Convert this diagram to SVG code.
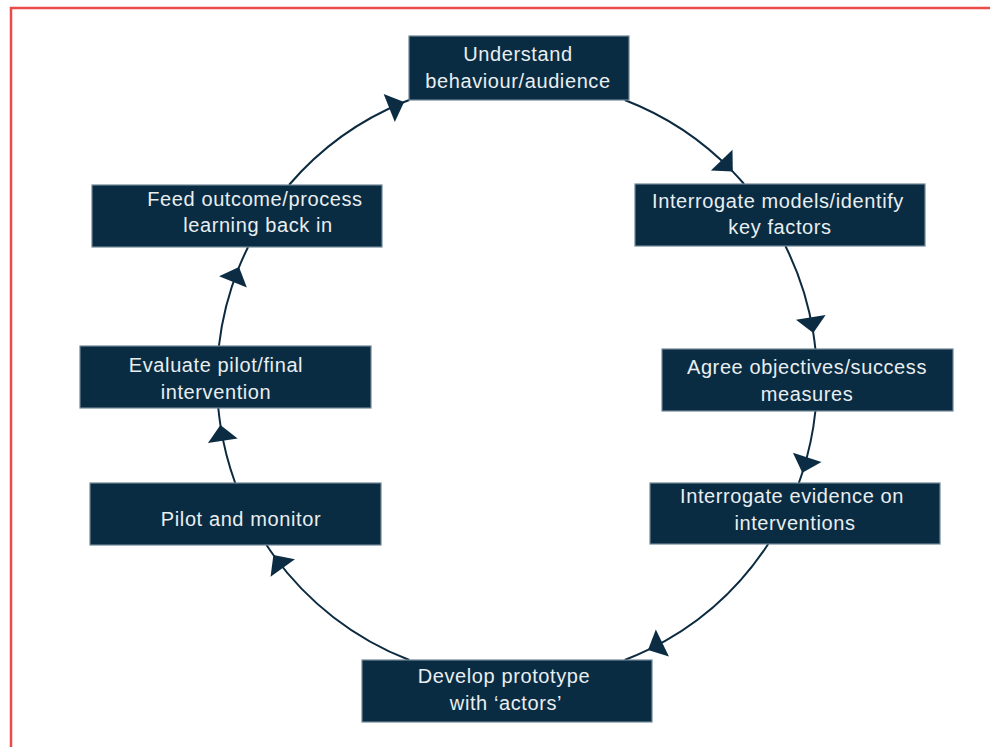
<svg xmlns="http://www.w3.org/2000/svg" width="990" height="747" viewBox="0 0 990 747">
  <style>
    .box { fill: #0a2c42; stroke: #6f8797; stroke-width: 1.2; }
    .lbl { fill: #e9eef1; font-family: "Liberation Sans", Arial, sans-serif; font-size: 20px; letter-spacing: 0.6px; text-anchor: middle; }
    .conn { fill: none; stroke: #0d2b40; stroke-width: 2; marker-mid: url(#ah); }
  </style>
  <defs>
    <marker id="ah" markerUnits="userSpaceOnUse" viewBox="-17 -16 18 32" markerWidth="18" markerHeight="32" refX="0" refY="0" orient="auto">
      <path d="M0,0 L-16,-15 L-16,15 Z" fill="#0b2c42"/>
    </marker>
  </defs>
  <rect width="990" height="747" fill="#ffffff"/>
  <path d="M11,747 V8 H990" fill="none" stroke="#ea4a48" stroke-width="2.5"/>

  <g id="connectors">
    <path class="conn" d="M289,185 A300,300 0 0 1 404.1,102 A300,300 0 0 1 409.3,100"/>
    <path class="conn" d="M624.7,100 A300,300 0 0 1 732.8,171.6 A300,300 0 0 1 744.1,184"/>
    <path class="conn" d="M785.4,246 A300,300 0 0 1 813.3,333.1 A300,300 0 0 1 815.4,349"/>
    <path class="conn" d="M815.4,411 A300,300 0 0 1 802.3,472.7 A300,300 0 0 1 798.8,483"/>
    <path class="conn" d="M768.2,544 A300,300 0 0 1 648,649.9 A300,300 0 0 1 624.7,660"/>
    <path class="conn" d="M409.3,660 A300,300 0 0 1 273.4,555 A300,300 0 0 1 266.5,545"/>
    <path class="conn" d="M235.2,483 A300,300 0 0 1 220.4,424.9 A300,300 0 0 1 218.3,408"/>
    <path class="conn" d="M218.9,346 A300,300 0 0 1 239,267.1 A300,300 0 0 1 248.1,247"/>
  </g>

  <g id="n1">
    <rect class="box" x="409" y="36" width="220" height="64"/>
    <text class="lbl" x="518" y="61">Understand</text>
    <text class="lbl" x="518" y="88">behaviour/audience</text>
  </g>
  <g id="n2">
    <rect class="box" x="635" y="184" width="290" height="62"/>
    <text class="lbl" x="778" y="208">Interrogate models/identify</text>
    <text class="lbl" x="780" y="234">key factors</text>
  </g>
  <g id="n3">
    <rect class="box" x="662" y="349" width="291" height="62"/>
    <text class="lbl" x="807" y="374">Agree objectives/success</text>
    <text class="lbl" x="807" y="401">measures</text>
  </g>
  <g id="n4">
    <rect class="box" x="650" y="483" width="290" height="61"/>
    <text class="lbl" x="792" y="503">Interrogate evidence on</text>
    <text class="lbl" x="795" y="530">interventions</text>
  </g>
  <g id="n5">
    <rect class="box" x="362" y="660" width="290" height="62"/>
    <text class="lbl" x="504" y="683">Develop prototype</text>
    <text class="lbl" x="506" y="710">with ‘actors’</text>
  </g>
  <g id="n6">
    <rect class="box" x="90" y="483" width="291" height="62"/>
    <text class="lbl" x="241" y="526">Pilot and monitor</text>
  </g>
  <g id="n7">
    <rect class="box" x="80" y="346" width="291" height="62"/>
    <text class="lbl" x="216" y="372">Evaluate pilot/final</text>
    <text class="lbl" x="216" y="399">intervention</text>
  </g>
  <g id="n8">
    <rect class="box" x="92" y="185" width="290" height="62"/>
    <text class="lbl" x="255" y="206">Feed outcome/process</text>
    <text class="lbl" x="258" y="232">learning back in</text>
  </g>
</svg>
